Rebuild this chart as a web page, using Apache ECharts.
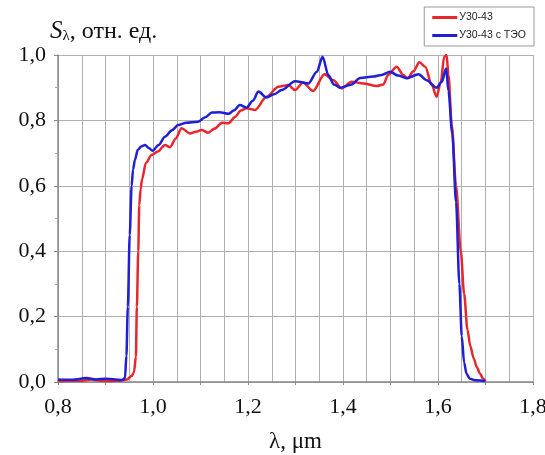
<!DOCTYPE html>
<html>
<head>
<meta charset="utf-8">
<script src="https://cdn.jsdelivr.net/npm/echarts@6/dist/echarts.min.js"></script>
<style>
html,body{margin:0;padding:0;background:#fff;}
#chart{width:545px;height:455px;}
</style>
</head>
<body>
<div id="chart"></div>
<script>
// Series names
const seriesNames = ['У30-43', 'У30-43 с ТЭО'];

// Red series: wavelength (µm) and relative sensitivity
const redLambda = [0.80,0.83,0.85,0.87,0.89,0.91,0.93,0.945,0.955,0.960,0.964,0.966,0.969,0.971,0.974,0.977,0.985,0.997,1.010,1.025,1.036,1.048,1.060,1.078,1.090,1.103,1.116,1.130,1.145,1.159,1.173,1.185,1.197,1.215,1.239,1.264,1.285,1.299,1.316,1.337,1.361,1.380,1.397,1.418,1.443,1.471,1.485,1.495,1.513,1.527,1.536,1.548,1.561,1.573,1.587,1.597,1.606,1.613,1.618,1.622,1.629,1.638,1.648,1.655,1.662,1.668,1.675,1.682,1.688,1.695,1.700];
const redS = [0.003,0.004,0.004,0.008,0.004,0.003,0.004,0.008,0.018,0.03,0.077,0.23,0.40,0.54,0.59,0.62,0.67,0.694,0.705,0.725,0.718,0.745,0.776,0.76,0.765,0.771,0.762,0.775,0.793,0.791,0.811,0.83,0.837,0.832,0.872,0.903,0.908,0.893,0.916,0.89,0.941,0.923,0.898,0.918,0.913,0.905,0.91,0.939,0.964,0.939,0.929,0.95,0.978,0.964,0.908,0.872,0.918,0.995,1.0,0.939,0.786,0.6,0.4,0.27,0.16,0.11,0.073,0.045,0.027,0.01,0.003];

// Blue series
const blueLambda = [0.80,0.83,0.86,0.88,0.90,0.92,0.935,0.941,0.944,0.947,0.951,0.955,0.958,0.962,0.968,0.975,0.983,0.992,0.999,1.012,1.025,1.040,1.053,1.070,1.095,1.110,1.124,1.140,1.159,1.170,1.183,1.197,1.210,1.222,1.239,1.255,1.271,1.299,1.327,1.345,1.357,1.369,1.381,1.394,1.418,1.436,1.464,1.481,1.499,1.516,1.534,1.559,1.576,1.597,1.608,1.617,1.622,1.630,1.638,1.645,1.650,1.655,1.660,1.667,1.680,1.700];
const blueS = [0.008,0.007,0.012,0.008,0.01,0.008,0.006,0.012,0.08,0.23,0.45,0.6,0.65,0.68,0.71,0.72,0.725,0.715,0.707,0.725,0.75,0.77,0.786,0.793,0.796,0.81,0.824,0.825,0.82,0.83,0.847,0.839,0.86,0.888,0.87,0.88,0.893,0.92,0.913,0.949,0.995,0.939,0.91,0.90,0.91,0.93,0.934,0.939,0.949,0.937,0.929,0.941,0.923,0.90,0.918,0.959,0.89,0.76,0.55,0.30,0.14,0.06,0.025,0.01,0.005,0.003];

const zip = (xs, ys) => xs.map((x, i) => [x, ys[i]]);
const fmt = v => v.toFixed(1).replace('.', ',');
const fmtX = v => (Math.round(v * 10) % 2 === 0) ? fmt(v) : '';
const serif = '"Liberation Serif","Times New Roman",serif';

const chart = echarts.init(document.getElementById('chart'), null, {renderer: 'canvas'});
chart.setOption({
  animation: false,
  backgroundColor: '#fff',
  grid: {left: 58, right: 12, top: 55, bottom: 73, containLabel: false, outerBoundsMode: 'none'},
  legend: {
    orient: 'vertical', right: 11, top: 7,
    data: seriesNames.map(n => ({name: n, icon: 'rect'})),
    itemWidth: 25, itemHeight: 3, itemGap: 7,
    padding: [5, 8, 5, 8],
    borderColor: '#999', borderWidth: 1,
    textStyle: {fontFamily: 'Arial, "Liberation Sans", sans-serif', fontSize: 10.5, color: '#222', padding: [0, 0, 0, -3]}
  },
  xAxis: {
    type: 'value', min: 0.8, max: 1.8, interval: 0.1,
    name: 'λ, μm', nameLocation: 'middle', nameGap: 48,
    nameTextStyle: {fontFamily: serif, fontSize: 23, color: '#111'},
    axisLine: {show: true, lineStyle: {color: '#888', width: 1.5}},
    axisTick: {show: true, length: 3, lineStyle: {color: '#888'}},
    minorTick: {show: false, splitNumber: 2},
    minorSplitLine: {show: true, lineStyle: {color: '#b0b0b0', width: 1}},
    splitLine: {show: true, lineStyle: {color: '#b0b0b0', width: 1}},
    axisLabel: {formatter: fmtX, fontFamily: serif, fontSize: 22, color: '#111', margin: 14}
  },
  yAxis: {
    type: 'value', min: 0, max: 1.0, interval: 0.2,
    name: '{s|S}{l|λ}{t|, отн. ед.}', nameLocation: 'end', nameGap: 11,
    nameTextStyle: {
      align: 'left', padding: [0, 0, 0, -8],
      rich: {
        s: {fontFamily: serif, fontStyle: 'italic', fontSize: 25, color: '#111'},
        l: {fontFamily: serif, fontSize: 15, color: '#111', padding: [9, 0, 0, 0]},
        t: {fontFamily: serif, fontSize: 24, color: '#111'}
      }
    },
    axisLine: {show: true, lineStyle: {color: '#888', width: 1.5}},
    axisTick: {show: true, length: 4, lineStyle: {color: '#888'}},
    minorTick: {show: true, splitNumber: 2, length: 3, lineStyle: {color: '#aaa'}},
    splitLine: {show: true, lineStyle: {color: '#b0b0b0', width: 1}},
    axisLabel: {formatter: fmt, fontFamily: serif, fontSize: 22, color: '#111', margin: 12}
  },
  series: [
    {
      name: seriesNames[0], type: 'line', data: zip(redLambda, redS),
      symbol: 'none', smooth: 0.3, smoothMonotone: 'x',
      lineStyle: {color: '#e8262b', width: 2.5}, itemStyle: {color: '#e8262b'}, z: 2
    },
    {
      name: seriesNames[1], type: 'line', data: zip(blueLambda, blueS),
      symbol: 'none', smooth: 0.3, smoothMonotone: 'x',
      lineStyle: {color: '#1f1fd6', width: 2.5}, itemStyle: {color: '#1f1fd6'}, z: 3
    }
  ]
});
</script>
</body>
</html>
